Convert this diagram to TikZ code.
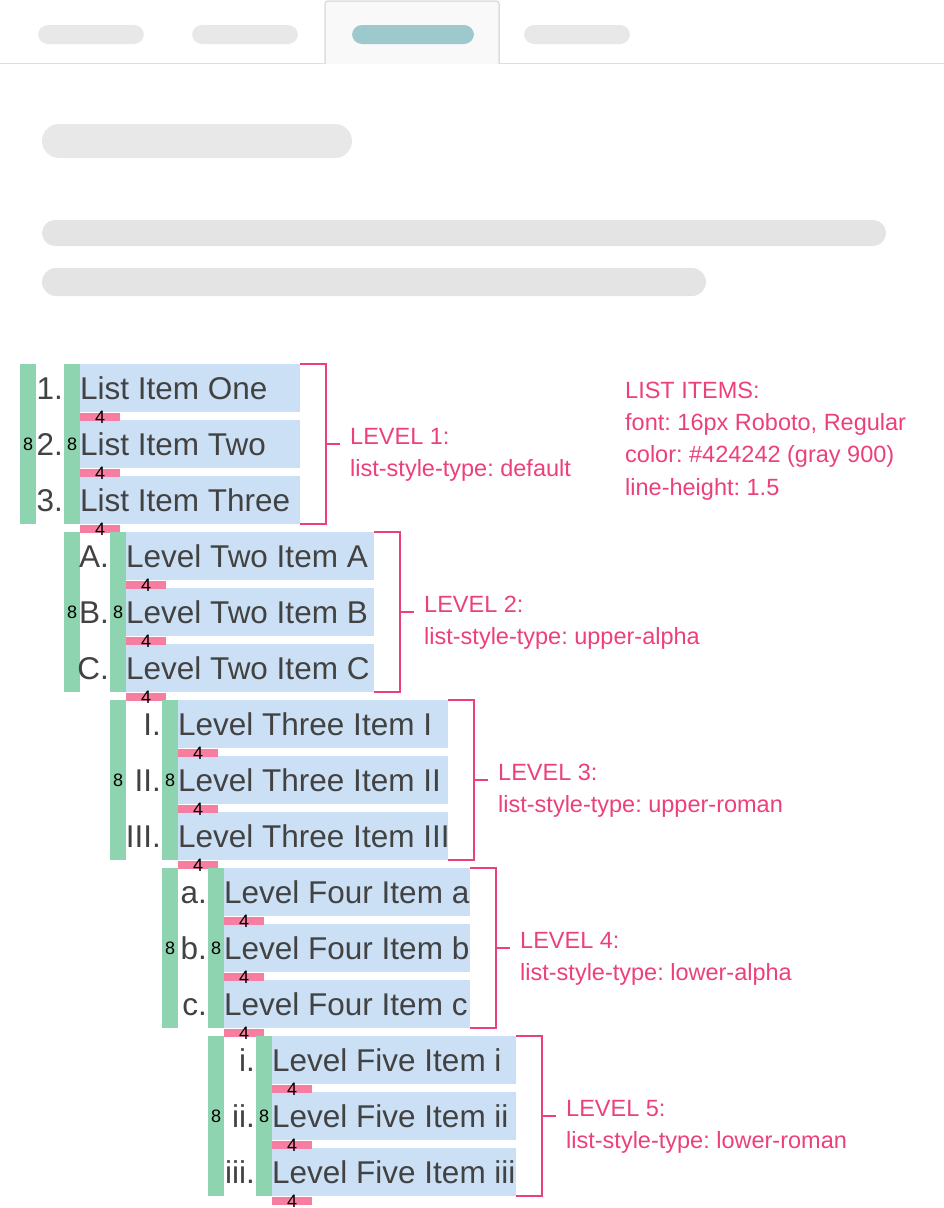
\documentclass[tikz,border=0pt]{standalone}
\usepackage{fontspec}
\setmainfont{Liberation Sans}
\frenchspacing
\usetikzlibrary{calc}

\definecolor{barGreen}{HTML}{8FD4B0}
\definecolor{boxBlue}{HTML}{CCE0F5}
\definecolor{gapPink}{HTML}{F77DA1}
\definecolor{notePink}{HTML}{EC407A}
\definecolor{itemGray}{HTML}{424242}
\definecolor{pillGray}{HTML}{E8E8E8}
\definecolor{lineGray}{HTML}{E4E4E4}
\definecolor{pillTeal}{HTML}{9DC8CC}
\definecolor{tabEdge}{HTML}{DEDEDE}
\definecolor{tabFill}{HTML}{F9F9F9}

\tikzset{
  indentbar/.style={fill=barGreen, minimum width=16, minimum height=160, inner sep=0,
    anchor=north west, font=\fontsize{18}{20}\selectfont},
  itembox/.style={fill=boxBlue, minimum height=48, inner sep=0, anchor=north west},
  itemtext/.style={text=itemGray, inner sep=0, font=\fontsize{31.5}{38}\selectfont},
  gapbar/.style={fill=gapPink, minimum width=40, minimum height=8, inner sep=0, anchor=north west},
  gaplabel/.style={inner sep=0, font=\fontsize{18}{20}\selectfont},
  bracket/.style={draw=notePink, line width=2pt},
  note/.style={text=notePink, inner sep=0, font=\fontsize{23.5}{32.3}\selectfont}
}

\begin{document}
\begin{tikzpicture}[x=1pt, y=-1pt]
  \useasboundingbox (0,0) rectangle (944,1208);

  % tabs
  \draw[tabEdge, line width=1.5pt] (0,63.5) -- (325,63.5) (499,63.5) -- (944,63.5);
  \filldraw[fill=tabFill, draw=tabEdge, line width=1.5pt, rounded corners=3]
    (325,64) -- (325,1) -- (499,1) -- (499,64);
  \fill[pillGray, rounded corners=10] (38,25) rectangle (144,44);
  \fill[pillGray, rounded corners=10] (192,25) rectangle (298,44);
  \fill[pillTeal, rounded corners=10] (352,25) rectangle (474,44);
  \fill[pillGray, rounded corners=10] (524,25) rectangle (630,44);

  % placeholder heading and text lines
  \fill[pillGray, rounded corners=17] (42,124) rectangle (352,158);
  \fill[lineGray, rounded corners=13] (42,220) rectangle (886,246);
  \fill[lineGray, rounded corners=14] (42,268) rectangle (706,296);

  % nested list levels
  \foreach \lv/\xo/\xi/\xr/\yt/\ma/\mb/\mc/\ta/\tb/\tc/\kind in {
    1/20/64/300/364/1./2./3./List Item One/List Item Two/List Item Three/default,
    2/64/110/374/532/A./B./C./Level Two Item A/Level Two Item B/Level Two Item C/upper-alpha,
    3/110/162/448/700/I./II./III./Level Three Item I/Level Three Item II/Level Three Item III/upper-roman,
    4/162/208/470/868/a./b./c./Level Four Item a/Level Four Item b/Level Four Item c/lower-alpha,
    5/208/256/516/1036/i./ii./iii./Level Five Item i/Level Five Item ii/Level Five Item iii/lower-roman}{
    % green indent bars
    \node[indentbar] (outer\lv) at (\xo,\yt) {8};
    \node[indentbar] (inner\lv) at (\xi,\yt) {8};
    % items and markers
    \foreach \k/\mk/\tx in {1/\ma/\ta, 2/\mb/\tb, 3/\mc/\tc}{
      \pgfmathsetmacro\yr{\yt+56*(\k-1)}
      \node[itembox, minimum width=\xr-\xi-16] (box\lv-\k) at (\xi+16,\yr) {};
      \node[itemtext, anchor=base west] (txt\lv-\k) at (\xi+16,\yr+35) {\tx};
      \node[itemtext, anchor=base east] (mark\lv-\k) at (\xi-1,\yr+35) {\mk};
    }
    % 4px gaps on top
    \foreach \k in {1,2,3}{
      \node[gapbar] (gap\lv-\k) at (box\lv-\k.south west) {};
      \node[gaplabel] (four\lv-\k) at ($(gap\lv-\k.center)+(0,0.8)$) {4};
    }
    % bracket and level note
    \draw[bracket] (box\lv-1.north east) -- ++(26,0) |- (box\lv-3.south east);
    \coordinate (tick\lv) at (\xr+26,\yt+80);
    \draw[bracket] (tick\lv) -- ++(14,0);
    \node[note, anchor=base west] (level\lv) at (\xr+50,\yt+80) {LEVEL \lv:};
    \node[note, anchor=base west] (type\lv) at (\xr+50,\yt+112) {list-style-type: \kind};
  }

  % list item spec
  \node[note, anchor=north west, align=left] (spec) at (625,381.5) {LIST ITEMS:\\
    font: 16px Roboto, Regular\\
    color: \#424242 (gray 900)\\
    line-height: 1.5};
\end{tikzpicture}
\end{document}
